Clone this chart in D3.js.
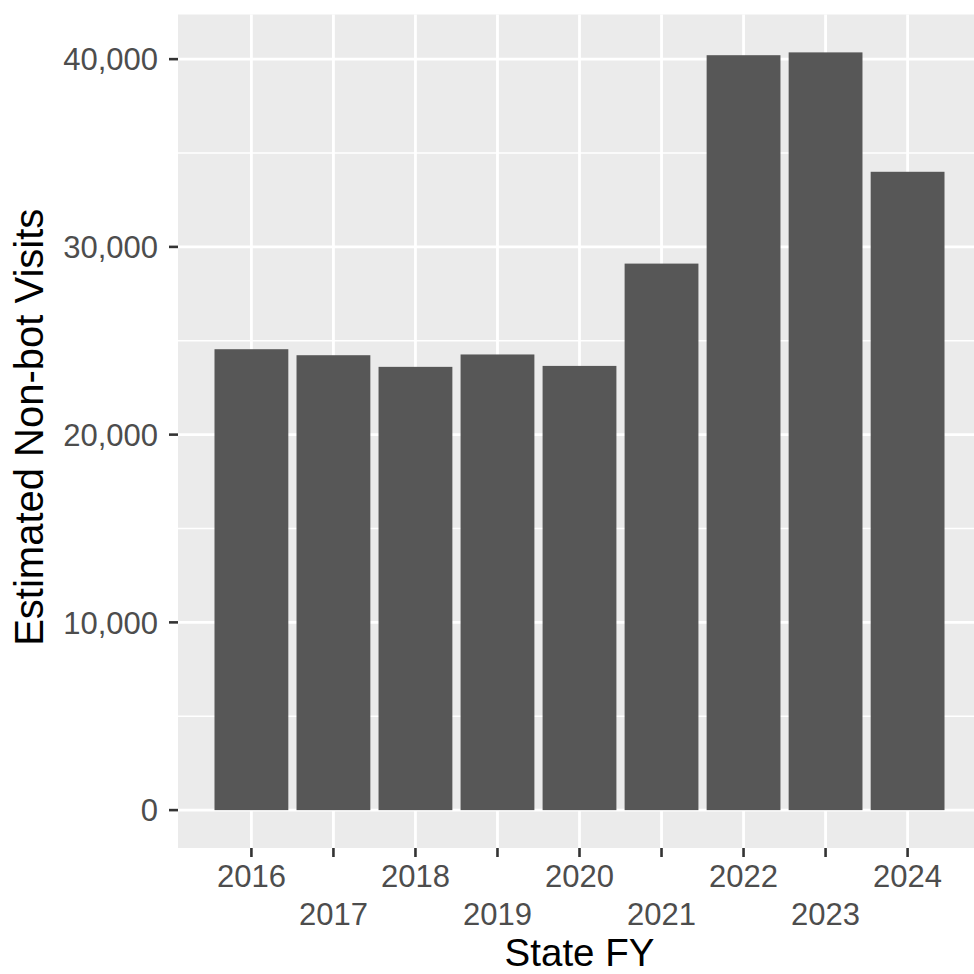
<!DOCTYPE html>
<html><head><meta charset="utf-8">
<script src="https://cdn.jsdelivr.net/npm/d3@7"></script>
<style>body{margin:0;background:#fff}svg{display:block}</style>
</head><body>
<svg id="c" width="974" height="974"></svg>
<script>
const years = [2016, 2017, 2018, 2019, 2020, 2021, 2022, 2023, 2024];
const visits = [24550, 24230, 23610, 24270, 23660, 29110, 40210, 40360, 34000];
const yTicks = [0, 10000, 20000, 30000, 40000];
const yMinor = [5000, 15000, 25000, 35000];

const svg = d3.select("#c");
const panel = {left: 178, right: 981, top: 14.5, bottom: 848};
const barW = 0.9;

const xlo = d3.min(years) - barW/2, xhi = d3.max(years) + barW/2;
const xpad = (xhi - xlo) * 0.05;
const x = d3.scaleLinear().domain([xlo - xpad, xhi + xpad]).range([panel.left, panel.right]);
const ymax = d3.max(visits), ypad = ymax * 0.05;
const y = d3.scaleLinear().domain([-ypad, ymax + ypad]).range([panel.bottom, panel.top]);

const font = "'Liberation Sans', Arial, Helvetica, sans-serif";

svg.append("rect").attr("x", panel.left).attr("y", panel.top)
  .attr("width", panel.right - panel.left).attr("height", panel.bottom - panel.top)
  .attr("fill", "#EBEBEB");

const g = svg.append("g");
g.selectAll(".ymin").data(yMinor).join("line")
  .attr("x1", panel.left).attr("x2", panel.right)
  .attr("y1", d => y(d)).attr("y2", d => y(d))
  .attr("stroke", "#fff").attr("stroke-width", 1.4);
g.selectAll(".ymaj").data(yTicks).join("line")
  .attr("x1", panel.left).attr("x2", panel.right)
  .attr("y1", d => y(d)).attr("y2", d => y(d))
  .attr("stroke", "#fff").attr("stroke-width", 2.8);
g.selectAll(".xmaj").data(years).join("line")
  .attr("y1", panel.top).attr("y2", panel.bottom)
  .attr("x1", d => x(d)).attr("x2", d => x(d))
  .attr("stroke", "#fff").attr("stroke-width", 2.8);

svg.selectAll(".bar").data(years).join("rect")
  .attr("x", (d) => x(d - barW/2))
  .attr("width", (d) => x(d + barW/2) - x(d - barW/2))
  .attr("y", (d, i) => y(visits[i]))
  .attr("height", (d, i) => y(0) - y(visits[i]))
  .attr("fill", "#575757");

// y axis
const ya = svg.append("g");
ya.selectAll("line").data(yTicks).join("line")
  .attr("x1", panel.left - 9).attr("x2", panel.left)
  .attr("y1", d => y(d)).attr("y2", d => y(d))
  .attr("stroke", "#333").attr("stroke-width", 2.6);
ya.selectAll("text").data(yTicks).join("text")
  .attr("x", panel.left - 20).attr("y", d => y(d)).attr("dy", "0.36em")
  .attr("text-anchor", "end").attr("font-family", font).attr("font-size", 31)
  .attr("fill", "#4D4D4D").text(d => d3.format(",")(d));

// x axis
const xa = svg.append("g");
xa.selectAll("line").data(years).join("line")
  .attr("x1", d => x(d)).attr("x2", d => x(d))
  .attr("y1", panel.bottom).attr("y2", panel.bottom + 9)
  .attr("stroke", "#333").attr("stroke-width", 2.6);
xa.selectAll("text").data(years).join("text")
  .attr("x", d => x(d)).attr("y", (d, i) => i % 2 === 0 ? 887 : 925)
  .attr("text-anchor", "middle").attr("font-family", font).attr("font-size", 31)
  .attr("fill", "#4D4D4D").text(d => d);

svg.append("text").attr("x", (panel.left + panel.right)/2).attr("y", 966)
  .attr("text-anchor", "middle").attr("font-family", font).attr("font-size", 38.5)
  .attr("fill", "#000").text("State FY");
svg.append("text")
  .attr("transform", `translate(43,${(panel.top + panel.bottom)/2 - 4}) rotate(-90)`)
  .attr("text-anchor", "middle").attr("font-family", font).attr("font-size", 40)
  .attr("fill", "#000").text("Estimated Non-bot Visits");
</script>
</body></html>
